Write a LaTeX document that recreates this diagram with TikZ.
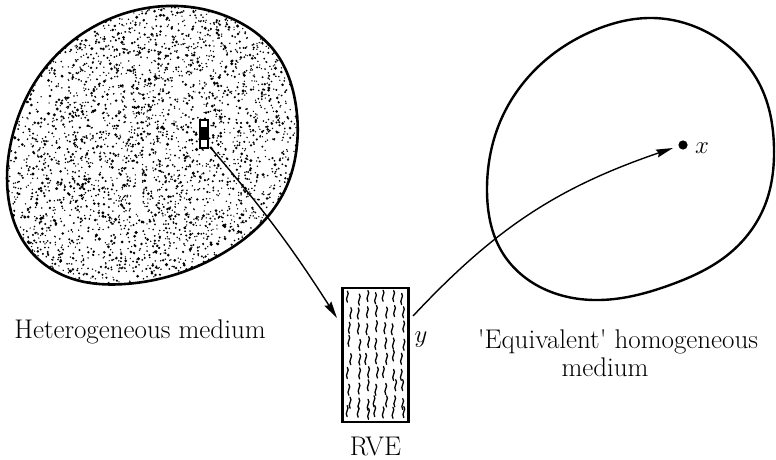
\documentclass[tikz,border=0pt]{standalone}
\usetikzlibrary{arrows.meta,hobby}
\begin{document}
\begin{tikzpicture}[x=1pt,y=-1pt,
  outline/.style={line width=2.6pt,line join=round},
  arr/.style={line width=1.4pt,-{Stealth[length=17pt,width=8pt,inset=2pt]}},
  lbl/.style={font=\fontsize{27}{32}\selectfont,inner sep=0pt},
  squig/.style={line width=1.3pt,line cap=round}]
\useasboundingbox (0,0) rectangle (776,460);
% stippled heterogeneous medium
\begin{scope}
  \clip[use Hobby shortcut,closed=true] (167,6) .. (235,20) .. (276,53) .. (295,100) .. (297,145) .. (285,190) .. (262,223) .. (225,252) .. (180,273) .. (125,284) .. (70,278) .. (28,248) .. (8,195) .. (14,130) .. (42,72) .. (95,26);
  \pgfmathsetseed{7}
  \foreach \i in {1,...,4000}{
    \pgfmathsetmacro\px{4+296*rnd}
    \pgfmathsetmacro\py{4+282*rnd}
    \pgfmathsetmacro\pr{0.7+1.1*rnd*rnd}
    \fill (\px,\py) circle (\pr pt);
  }
\end{scope}
\draw[outline,use Hobby shortcut,closed=true] (167,6) .. (235,20) .. (276,53) .. (295,100) .. (297,145) .. (285,190) .. (262,223) .. (225,252) .. (180,273) .. (125,284) .. (70,278) .. (28,248) .. (8,195) .. (14,130) .. (42,72) .. (95,26);
% small sample
\node[draw,fill=white,line width=1.6pt,minimum width=8pt,minimum height=28pt,inner sep=0pt] (sample) at (204,134) {};
\fill (200,127) rectangle (208,140);
\fill[white] (204,144) circle (2.2pt);
% equivalent homogeneous medium
\draw[line width=2.4pt,use Hobby shortcut,closed=true] (653,18) .. (720,40) .. (760,85) .. (774,148) .. (765,205) .. (730,253) .. (670,285) .. (600,300) .. (540,287) .. (502,252) .. (487,190) .. (500,122) .. (540,65) .. (595,30);
% RVE
\node[draw,line width=2.2pt,minimum width=66pt,minimum height=134pt,inner sep=0pt] (rve) at (375.5,355) {};
\begin{scope}
  \pgfmathsetseed{3}
  \foreach \cx in {349,358,367,376,385,394,403}{
    \foreach \cy in {292,307,322,337,352,367,382,397,406}{
      \pgfmathsetmacro\qx{\cx+2*(rnd-0.5)*2}
      \pgfmathsetmacro\qy{\cy+2*(rnd-0.5)*2.5}
      \draw[squig] (\qx,\qy) .. controls (\qx+3,\qy+3) and (\qx-3,\qy+7) .. (\qx,\qy+11);
    }
  }
\end{scope}
% labels
\node[lbl,anchor=base] (het) at (140,338) {Heterogeneous medium};
\node[lbl,anchor=base] (eq1) at (618,348) {\textquotesingle Equivalent\textquotesingle\ homogeneous};
\node[lbl,anchor=base] (eq2) at (605,376) {medium};
\node[lbl,anchor=base] (rvel) at (375.5,455) {RVE};
\node[lbl,anchor=base] (ylbl) at (421,342) {$y$};
\fill (683,145) circle (4.6pt) node (dot) {};
\node[lbl,anchor=base] (xlbl) at (702,153) {$x$};
% connectors
\coordinate (a1s) at (210,147);
\coordinate (a1e) at (337,318);
\coordinate (a2s) at (413,316);
\coordinate (a2e) at (673,148);
\draw[arr] (a1s) to[bend left=4] (a1e);
\draw[arr] (a2s) to[bend left=14] (a2e);
\end{tikzpicture}
\end{document}
